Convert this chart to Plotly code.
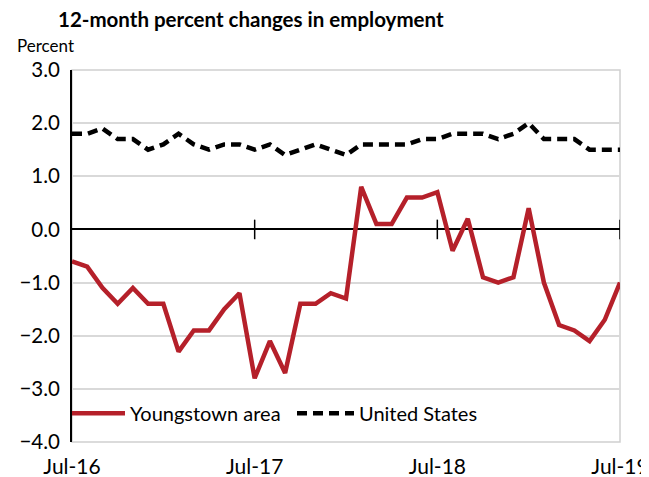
import plotly.graph_objects as go

months = ["Jul-16","Aug-16","Sep-16","Oct-16","Nov-16","Dec-16","Jan-17","Feb-17","Mar-17","Apr-17","May-17","Jun-17",
          "Jul-17","Aug-17","Sep-17","Oct-17","Nov-17","Dec-17","Jan-18","Feb-18","Mar-18","Apr-18","May-18","Jun-18",
          "Jul-18","Aug-18","Sep-18","Oct-18","Nov-18","Dec-18","Jan-19","Feb-19","Mar-19","Apr-19","May-19","Jun-19","Jul-19"]
youngstown = [-0.6,-0.7,-1.1,-1.4,-1.1,-1.4,-1.4,-2.3,-1.9,-1.9,-1.5,-1.2,
              -2.8,-2.1,-2.7,-1.4,-1.4,-1.2,-1.3,0.8,0.1,0.1,0.6,0.6,
              0.7,-0.4,0.2,-0.9,-1.0,-0.9,0.4,-1.0,-1.8,-1.9,-2.1,-1.7,-1.0]
united_states = [1.8,1.8,1.9,1.7,1.7,1.5,1.6,1.8,1.6,1.5,1.6,1.6,
                 1.5,1.6,1.4,1.5,1.6,1.5,1.4,1.6,1.6,1.6,1.6,1.7,
                 1.7,1.8,1.8,1.8,1.7,1.8,2.0,1.7,1.7,1.7,1.5,1.5,1.5]
tick_labels = ["Jul-16","Jul-17","Jul-18","Jul-19"]
y_ticks = [3.0,2.0,1.0,0.0,-1.0,-2.0,-3.0,-4.0]

x = list(range(len(months)))
tick_pos = [x[months.index(t)] for t in tick_labels]

FONT = "Lato"
fig = go.Figure()
fig.add_trace(go.Scatter(x=x, y=youngstown, mode="lines", name="Youngstown area\u00a0\u00a0\u00a0",
                         line=dict(color="#B5202A", width=4.5)))
fig.add_trace(go.Scatter(x=x, y=united_states, mode="lines", name="United States",
                         line=dict(color="#000000", width=4.5, dash="10px,6px")))
# tick marks crossing the zero line
fig.add_trace(go.Scatter(x=tick_pos[1:], y=[0]*3, mode="markers", showlegend=False, hoverinfo="skip",
                         marker=dict(symbol="line-ns", size=14, line=dict(color="black", width=1.5))))

# page body has an 8px margin, so the figure is laid out 8px up/left of the screen positions
fig.update_layout(
    width=649, height=477,
    margin=dict(l=64, r=37, t=62, b=43, autoexpand=False),
    paper_bgcolor="white", plot_bgcolor="white",
    font=dict(family=FONT, color="black"),
    title=dict(text="<b>12-month percent changes in employment</b>", x=50/649, xref="container", xanchor="left",
               y=1-12/477, yref="container", yanchor="middle", font=dict(size=20.5, family=FONT)),
    showlegend=True,
    legend=dict(orientation="h", x=0, y=0.025, xanchor="left", yanchor="bottom", indentation=-9,
                bgcolor="rgba(255,255,255,0)", font=dict(size=20, family=FONT),
                itemwidth=57, tracegroupgap=0),
    annotations=[dict(text="Percent", xref="paper", yref="paper", x=-0.104, y=1.067, xanchor="left",
                      yanchor="middle", showarrow=False, font=dict(size=17, family=FONT))],
    shapes=[dict(type="rect", xref="paper", yref="paper", x0=0, x1=1, y0=0, y1=1,
                 line=dict(color="#D0D0D0", width=1.5), layer="below")],
)
fig.update_xaxes(range=[0, 36], tickvals=tick_pos, ticktext=tick_labels, showgrid=False, zeroline=False,
                 showline=False, ticks="", tickfont=dict(size=21, family=FONT), automargin=False,
                 ticklabelstandoff=10)
fig.update_yaxes(range=[-4, 3], tickvals=y_ticks, tickformat=".1f", showgrid=True, gridcolor="#D9D9D9",
                 gridwidth=1.5, zeroline=True, zerolinecolor="black", zerolinewidth=1.5,
                 showline=True, linecolor="black", linewidth=2, ticks="", ticklabelstandoff=6,
                 tickfont=dict(size=20.5, family=FONT), automargin=False)

fig.write_html("out.html")
